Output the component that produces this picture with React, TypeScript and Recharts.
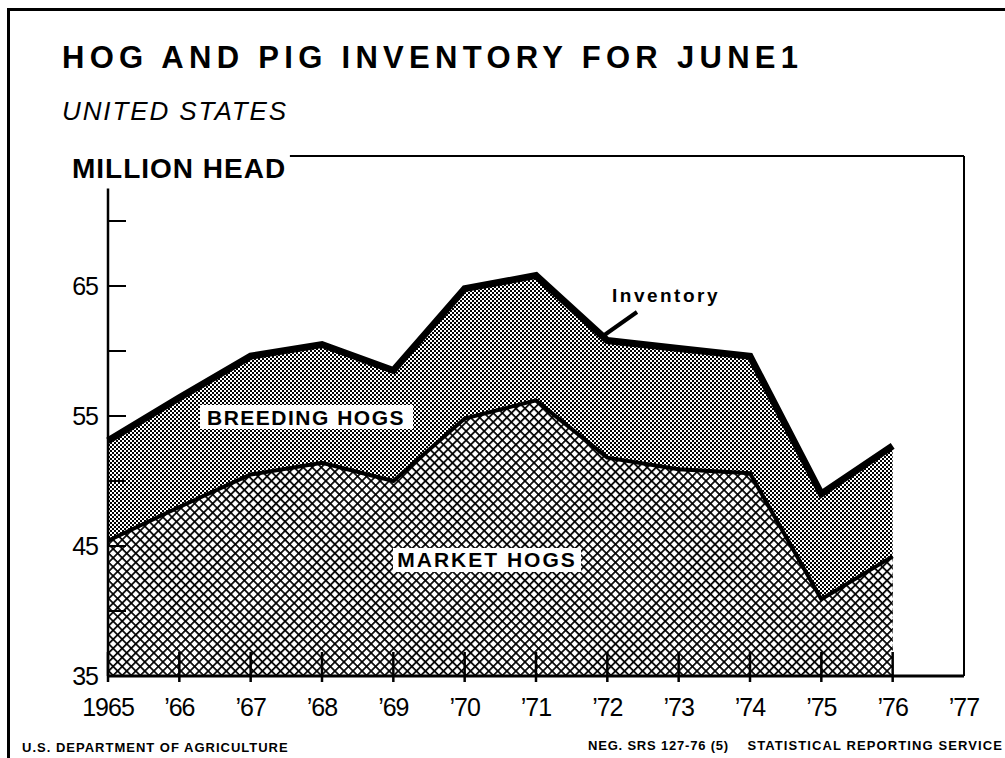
import { Area, ComposedChart, ReferenceLine, XAxis, YAxis } from 'recharts';

// June 1 inventory, million head
const years = [1965, 1966, 1967, 1968, 1969, 1970, 1971, 1972, 1973, 1974, 1975, 1976];
const inventory = [53.1, 56.4, 59.6, 60.5, 58.5, 64.8, 65.8, 60.8, 60.2, 59.6, 49.0, 52.7];
const marketHogs = [45.4, 48.0, 50.5, 51.4, 50.0, 54.8, 56.2, 51.8, 50.9, 50.6, 40.9, 44.2];

const yearTicks = [1965, 1966, 1967, 1968, 1969, 1970, 1971, 1972, 1973, 1974, 1975, 1976, 1977];
const yearLabels = ['1965', '’66', '’67', '’68', '’69', '’70', '’71', '’72', '’73', '’74', '’75', '’76', '’77'];
const leftTicks = [35, 40, 45, 50, 55, 60, 65, 70];
const rightTicks = [35, 40, 45, 50, 55, 60, 65, 70, 75];
const labeledTicks = [35, 45, 55, 65];

const data = years.map((year, i) => ({ year, inventory: inventory[i], market: marketHogs[i] }));

const font = '"Liberation Sans", Arial, Helvetica, sans-serif';

function YearTick({ x, y, payload }: any) {
  const i = yearTicks.indexOf(payload.value);
  const drawMark = payload.value < 1977;
  return (
    <g>
      {drawMark && <line x1={x} x2={x} y1={y - 24} y2={y + 6} stroke="#000" strokeWidth={2.5} />}
      <text x={x} y={y + 40} textAnchor="middle" fontFamily={font} fontSize={25} fill="#000" letterSpacing={-1}>
        {yearLabels[i]}
      </text>
    </g>
  );
}

function LeftTick({ x, y, payload }: any) {
  const labeled = labeledTicks.includes(payload.value);
  return (
    <g>
      {payload.value > 35 && <line x1={x} x2={x + 18} y1={y} y2={y} stroke="#000" strokeWidth={2} />}
      {labeled && (
        <text x={x - 10} y={y + 9} textAnchor="end" fontFamily={font} fontSize={25} fill="#000" letterSpacing={-1}>
          {payload.value}
        </text>
      )}
    </g>
  );
}

function RightTick({ x, y, payload }: any) {
  if (payload.value >= 75) return <g />;
  return <line x1={x - 17} x2={x} y1={y} y2={y} stroke="#000" strokeWidth={2} />;
}

export default function App() {
  return (
    <div style={{ position: 'absolute', left: 0, top: 0, width: 1005, height: 758, background: '#fff', overflow: 'hidden' }}>
      <div style={{ position: 'absolute', left: 7, top: 8, width: 1000, height: 760, borderTop: '3px solid #000', borderLeft: '3px solid #000' }} />
      <ComposedChart width={1005} height={758} data={data} margin={{ top: 156, right: 21, bottom: 22, left: 48 }}>
        <defs>
          <pattern id="dots" width="4" height="4" patternUnits="userSpaceOnUse">
            <rect width="4" height="4" fill="#fff" />
            <rect x="0" y="0" width="2" height="2" fill="#000" />
            <rect x="2" y="2" width="2" height="2" fill="#000" />
          </pattern>
          <pattern id="cross" width="6.4" height="6.4" patternUnits="userSpaceOnUse" patternTransform="rotate(45)">
            <rect width="6.4" height="6.4" fill="#fff" />
            <rect x="0" y="0" width="6.4" height="1.7" fill="#000" />
            <rect x="0" y="0" width="1.7" height="6.4" fill="#000" />
          </pattern>
        </defs>
        <XAxis
          dataKey="year"
          type="number"
          domain={[1965, 1977]}
          ticks={yearTicks}
          tick={<YearTick />}
          tickSize={0}
          tickMargin={0}
          height={60}
          axisLine={{ stroke: '#000', strokeWidth: 3 }}
          tickLine={false}
          interval={0}
        />
        <YAxis
          yAxisId="left"
          domain={[35, 75]}
          ticks={leftTicks}
          tick={<LeftTick />}
          tickSize={0}
          tickMargin={0}
          width={60}
          axisLine={false}
          tickLine={false}
          interval={0}
        />
        <YAxis
          yAxisId="right"
          orientation="right"
          domain={[35, 75]}
          ticks={rightTicks}
          tick={<RightTick />}
          tickSize={0}
          tickMargin={0}
          width={20}
          axisLine={{ stroke: '#000', strokeWidth: 2 }}
          tickLine={false}
          interval={0}
        />
        <Area
          yAxisId="left"
          type="linear"
          dataKey="inventory"
          baseValue={35}
          fill="url(#dots)"
          fillOpacity={1}
          stroke="#000"
          strokeWidth={7}
          isAnimationActive={false}
        />
        <Area
          yAxisId="left"
          type="linear"
          dataKey="market"
          baseValue={35}
          fill="url(#cross)"
          fillOpacity={1}
          stroke="#000"
          strokeWidth={4}
          isAnimationActive={false}
        />
        <ReferenceLine
          yAxisId="left"
          segment={[{ x: 1965, y: 72.5 }, { x: 1965, y: 35 }]}
          stroke="#000"
          strokeWidth={2.5}
          ifOverflow="visible"
        />
        <ReferenceLine
          yAxisId="left"
          segment={[{ x: 1967.55, y: 75 }, { x: 1977, y: 75 }]}
          stroke="#000"
          strokeWidth={2}
          ifOverflow="visible"
        />
      </ComposedChart>
      <svg width={1005} height={758} style={{ position: 'absolute', left: 0, top: 0, pointerEvents: 'none' }}>
        <g fontFamily={font} fill="#000">
          <text x={62} y={68} fontSize={31} fontWeight="bold" letterSpacing={5.3}>HOG AND PIG INVENTORY FOR JUNE1</text>
          <text x={62} y={120} fontSize={26} fontStyle="italic" letterSpacing={1.9}>UNITED STATES</text>
          <text x={72} y={178} fontSize={28} fontWeight="bold" letterSpacing={1}>MILLION HEAD</text>

          <rect x={200} y={405} width={213} height={24} fill="#fff" />
          <text x={306} y={425} fontSize={21} fontWeight="bold" letterSpacing={1.5} textAnchor="middle">BREEDING HOGS</text>

          <rect x={393} y={548} width={188} height={24} fill="#fff" />
          <text x={487} y={567} fontSize={21} fontWeight="bold" letterSpacing={2} textAnchor="middle">MARKET HOGS</text>

          <text x={612} y={302} fontSize={19} fontWeight="bold" letterSpacing={2.5}>Inventory</text>
          <line x1={637} y1={312} x2={603} y2={336} stroke="#000" strokeWidth={4} />

          <text x={22} y={752} fontSize={13} fontWeight="bold" letterSpacing={1}>U.S. DEPARTMENT OF AGRICULTURE</text>
          <text x={588} y={750} fontSize={13} fontWeight="bold" letterSpacing={0.8}>NEG. SRS 127-76 (5)</text>
          <text x={1003} y={750} fontSize={13} fontWeight="bold" letterSpacing={1.1} textAnchor="end">STATISTICAL REPORTING SERVICE</text>
        </g>
      </svg>
    </div>
  );
}
